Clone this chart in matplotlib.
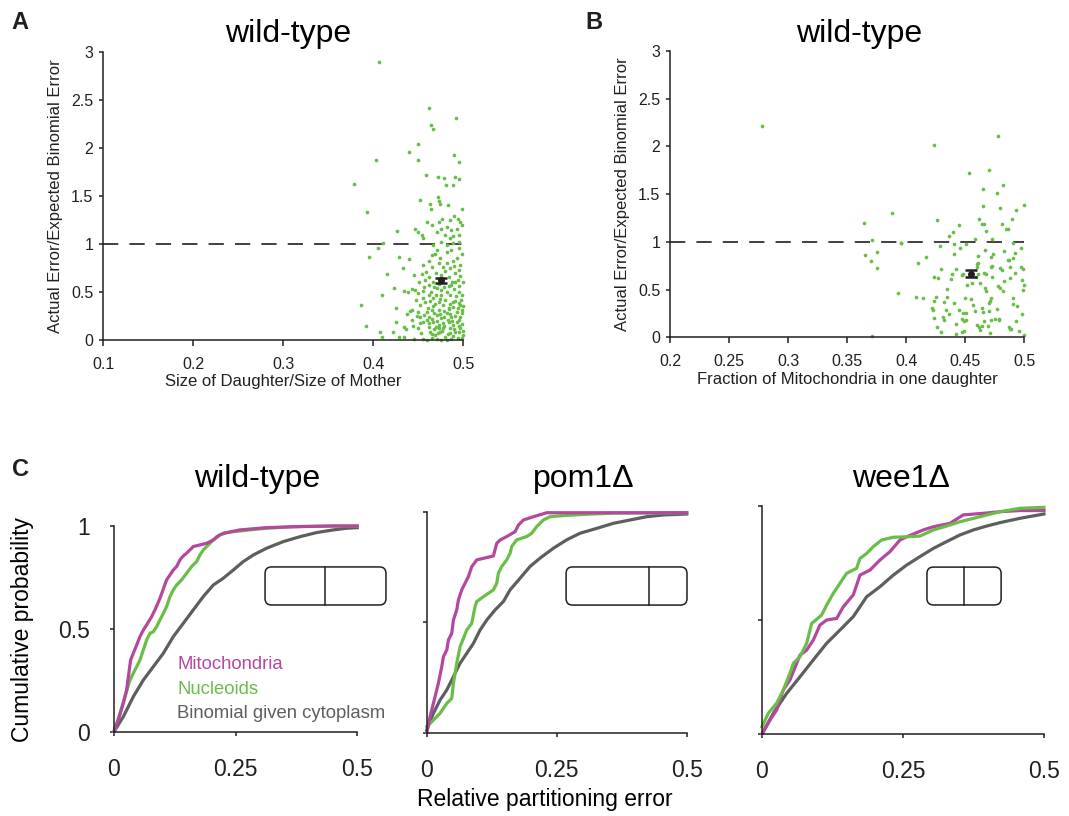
import numpy as np
import matplotlib
matplotlib.use('Agg')
import matplotlib.pyplot as plt
from matplotlib.patches import FancyBboxPatch

plt.rcParams['font.family'] = ['Liberation Sans', 'DejaVu Sans']
plt.rcParams['lines.scale_dashes'] = False

GREEN = '#69BE48'
MAGENTA = '#B4479E'
GREY = '#5E5E5E'
INK = '#231F20'

# A: size of daughter / size of mother vs actual / expected binomial error
size_pts = [
    (0.407, 2.90), (0.462, 2.42), (0.492, 2.31), (0.464, 2.24), (0.467, 2.20), (0.450, 2.04),
    (0.440, 1.96), (0.403, 1.875), (0.450, 1.88), (0.490, 1.93), (0.496, 1.85), (0.459, 1.72),
    (0.472, 1.70), (0.479, 1.69), (0.491, 1.70), (0.495, 1.68), (0.481, 1.61), (0.489, 1.61),
    (0.472, 1.49), (0.452, 1.46), (0.379, 1.63), (0.393, 1.33),
    (0.463, 1.42), (0.473, 1.45), (0.474, 1.42), (0.464, 1.37), (0.483, 1.41), (0.499, 1.37),
    (0.490, 1.295), (0.494, 1.26), (0.497, 1.23), (0.486, 1.25), (0.477, 1.26), (0.473, 1.23),
    (0.465, 1.20), (0.460, 1.225), (0.427, 1.135), (0.447, 1.16), (0.450, 1.13), (0.454, 1.09),
    (0.456, 1.06), (0.471, 1.13), (0.476, 1.16), (0.482, 1.18), (0.487, 1.15), (0.493, 1.16),
    (0.499, 1.20), (0.495, 1.09), (0.489, 1.08), (0.486, 1.06), (0.480, 1.09), (0.476, 1.02),
    (0.482, 0.99), (0.489, 1.01), (0.495, 1.02), (0.411, 1.01), (0.406, 0.955), (0.396, 0.86),
    (0.415, 0.69), (0.410, 0.47), (0.387, 0.365), (0.392, 0.146), (0.408, 0.08), (0.410, 0.03),
    (0.429, 0.87), (0.440, 0.84), (0.433, 0.75), (0.423, 0.54), (0.434, 0.51), (0.439, 0.50),
    (0.443, 0.53), (0.447, 0.52), (0.450, 0.49), (0.445, 0.68), (0.454, 0.69), (0.456, 0.78),
    (0.462, 0.82), (0.465, 0.885), (0.469, 0.90), (0.474, 0.85), (0.478, 0.76), (0.482, 0.80),
    (0.486, 0.75), (0.489, 0.82), (0.493, 0.85), (0.497, 0.78), (0.499, 0.90), (0.495, 0.955),
    (0.487, 0.94), (0.482, 0.92), (0.471, 0.94), (0.467, 0.99),
    (0.458, 0.625), (0.462, 0.573), (0.467, 0.608), (0.471, 0.538), (0.476, 0.469), (0.482, 0.503),
    (0.487, 0.573), (0.491, 0.608), (0.495, 0.503), (0.499, 0.469), (0.497, 0.365), (0.489, 0.399),
    (0.484, 0.330), (0.478, 0.365), (0.473, 0.399), (0.467, 0.434), (0.462, 0.469), (0.456, 0.434),
    (0.452, 0.365), (0.460, 0.295), (0.465, 0.313), (0.471, 0.260), (0.476, 0.226), (0.482, 0.278),
    (0.487, 0.243), (0.493, 0.295), (0.499, 0.313), (0.495, 0.208), (0.489, 0.156), (0.484, 0.191),
    (0.478, 0.122), (0.473, 0.156), (0.467, 0.191), (0.462, 0.174), (0.456, 0.191), (0.452, 0.174),
    (0.463, 0.087), (0.469, 0.052), (0.474, 0.087), (0.480, 0.035), (0.486, 0.070), (0.491, 0.087),
    (0.497, 0.122), (0.500, 0.052), (0.494, 0.017), (0.487, 0.011), (0.482, 0.0), (0.476, 0.0),
    (0.471, 0.011), (0.465, 0.017), (0.460, 0.0), (0.456, 0.011), (0.446, 0.011), (0.441, 0.302),
    (0.443, 0.313), (0.450, 0.295), (0.426, 0.191), (0.426, 0.337), (0.422, 0.087), (0.434, 0.132),
    (0.437, 0.115), (0.429, 0.035), (0.434, 0.035), (0.443, 0.208), (0.450, 0.122), (0.452, 0.243),
    (0.470, 0.139),
    (0.468, 0.55), (0.473, 0.58), (0.479, 0.55), (0.484, 0.56), (0.490, 0.53), (0.496, 0.56),
    (0.500, 0.60), (0.464, 0.50), (0.470, 0.47), (0.476, 0.52), (0.486, 0.47), (0.492, 0.46),
    (0.498, 0.42), (0.458, 0.40), (0.463, 0.41), (0.469, 0.38), (0.474, 0.43), (0.480, 0.42),
    (0.485, 0.38), (0.491, 0.41), (0.496, 0.39), (0.500, 0.35), (0.461, 0.33), (0.467, 0.35),
    (0.473, 0.31), (0.479, 0.30), (0.484, 0.32), (0.489, 0.34), (0.494, 0.33), (0.499, 0.28),
    (0.457, 0.26), (0.462, 0.24), (0.468, 0.28), (0.474, 0.27), (0.479, 0.24), (0.485, 0.27),
    (0.491, 0.25), (0.497, 0.24), (0.460, 0.21), (0.465, 0.22), (0.471, 0.20), (0.478, 0.18),
    (0.483, 0.21), (0.488, 0.20), (0.493, 0.19), (0.499, 0.17), (0.462, 0.14), (0.468, 0.12),
    (0.473, 0.13), (0.479, 0.15), (0.485, 0.13), (0.490, 0.11), (0.496, 0.15), (0.500, 0.09),
    (0.466, 0.06), (0.472, 0.07), (0.477, 0.09), (0.483, 0.06), (0.489, 0.04), (0.495, 0.08),
    (0.499, 0.02), (0.457, 0.55), (0.462, 0.66), (0.470, 0.70), (0.476, 0.68), (0.484, 0.66),
    (0.491, 0.70), (0.497, 0.67), (0.488, 0.60), (0.494, 0.63), (0.466, 0.76), (0.480, 0.72),
    (0.490, 0.77), (0.473, 0.80), (0.496, 0.73), (0.459, 0.71), (0.451, 0.60), (0.448, 0.42),
    (0.453, 0.07), (0.449, 0.25), (0.444, 0.15), (0.438, 0.27), (0.455, 0.51),
]
size_mean = 0.476
size_err_mean = 0.625
size_err_sem = 0.026

# B: fraction of mitochondria in one daughter vs the same error ratio
mito_pts = [
    (0.278, 2.21), (0.424, 2.01), (0.478, 2.105), (0.453, 1.727), (0.470, 1.755), (0.482, 1.598),
    (0.465, 1.559), (0.477, 1.507), (0.465, 1.378), (0.480, 1.35), (0.462, 1.241), (0.464, 1.192),
    (0.466, 1.192), (0.445, 1.178), (0.426, 1.23), (0.481, 1.185), (0.485, 1.136), (0.468, 1.112),
    (0.440, 1.105), (0.436, 1.063), (0.458, 1.035), (0.473, 1.035), (0.396, 0.993), (0.441, 0.979),
    (0.451, 0.979), (0.429, 0.954), (0.446, 0.937), (0.467, 0.916), (0.483, 0.909), (0.441, 0.870),
    (0.474, 0.874), (0.461, 0.853), (0.417, 0.839), (0.486, 0.811), (0.472, 0.839), (0.461, 0.783),
    (0.460, 0.766), (0.460, 0.741), (0.410, 0.783), (0.473, 0.752), (0.472, 0.738), (0.480, 0.723),
    (0.481, 0.706), (0.430, 0.713), (0.442, 0.713), (0.439, 0.660), (0.447, 0.654), (0.448, 0.664),
    (0.466, 0.671), (0.468, 0.660), (0.424, 0.636), (0.427, 0.619), (0.438, 0.608), (0.461, 0.660),
    (0.459, 0.636), (0.473, 0.629), (0.483, 0.594), (0.488, 0.622), (0.456, 0.573), (0.452, 0.549),
    (0.463, 0.566), (0.478, 0.538), (0.480, 0.514), (0.482, 0.489), (0.467, 0.514), (0.468, 0.486),
    (0.435, 0.507), (0.408, 0.426), (0.414, 0.409), (0.425, 0.419), (0.424, 0.381), (0.435, 0.426),
    (0.432, 0.374), (0.450, 0.409), (0.455, 0.398), (0.472, 0.409), (0.471, 0.381), (0.470, 0.363),
    (0.441, 0.356), (0.422, 0.304), (0.423, 0.286), (0.434, 0.286), (0.436, 0.244), (0.445, 0.286),
    (0.448, 0.251), (0.451, 0.258), (0.457, 0.339), (0.458, 0.279), (0.464, 0.304), (0.465, 0.269),
    (0.470, 0.272), (0.477, 0.297), (0.431, 0.209), (0.432, 0.181), (0.424, 0.206), (0.447, 0.188),
    (0.449, 0.174), (0.451, 0.181), (0.466, 0.174), (0.472, 0.181), (0.475, 0.188), (0.479, 0.195),
    (0.479, 0.181), (0.426, 0.111), (0.442, 0.143), (0.460, 0.129), (0.462, 0.105), (0.464, 0.118),
    (0.463, 0.076), (0.469, 0.115), (0.447, 0.056), (0.449, 0.070), (0.430, 0.056), (0.442, 0.038),
    (0.471, 0.045), (0.487, 0.111), (0.488, 0.083),
    (0.493, 1.338), (0.500, 1.391), (0.490, 1.239), (0.486, 1.134), (0.491, 0.986), (0.497, 0.933),
    (0.492, 0.880), (0.491, 0.827), (0.497, 0.739), (0.499, 0.711), (0.492, 0.669), (0.498, 0.599),
    (0.500, 0.546), (0.499, 0.493), (0.491, 0.415), (0.491, 0.352), (0.494, 0.324), (0.498, 0.246),
    (0.493, 0.176), (0.489, 0.088), (0.496, 0.070), (0.500, 0.025), (0.488, 0.739), (0.487, 0.81),
    (0.388, 1.30), (0.364, 1.20), (0.371, 1.017), (0.396, 0.993), (0.375, 0.895), (0.365, 0.863),
    (0.370, 0.80), (0.375, 0.73), (0.393, 0.465), (0.371, 0.013),
]
mito_mean = 0.455
mito_err_mean = 0.667
mito_err_sem = 0.04

# C: cumulative distributions of relative partitioning error
wt_mito_x = [0, 0.0089, 0.0192, 0.026, 0.0342, 0.0397, 0.0466, 0.0534, 0.0603, 0.0671, 0.0774,
             0.0842, 0.0945, 0.1082, 0.1151, 0.1219, 0.1288, 0.1356, 0.1411, 0.1493, 0.163, 0.1767,
             0.1904, 0.2041, 0.2178, 0.2315, 0.2589, 0.3137, 0.3822, 0.4507, 0.5]
wt_mito_y = [0, 0.057, 0.138, 0.203, 0.348, 0.381, 0.421, 0.462, 0.494, 0.519, 0.559, 0.592, 0.648,
             0.738, 0.762, 0.786, 0.803, 0.835, 0.851, 0.868, 0.9, 0.908, 0.916, 0.932, 0.957,
             0.968, 0.981, 0.992, 0.997, 1.0, 1.0]
wt_nuc_x = [0, 0.0123, 0.0226, 0.0329, 0.0397, 0.0466, 0.0534, 0.0603, 0.0671, 0.074, 0.0808,
            0.0877, 0.0945, 0.1014, 0.1082, 0.1151, 0.1219, 0.1288, 0.139, 0.1493, 0.1596, 0.1699,
            0.1767, 0.1836, 0.1904, 0.2007, 0.211, 0.2247, 0.2452, 0.2795, 0.3137, 0.3685, 0.4507, 0.5]
wt_nuc_y = [0, 0.089, 0.17, 0.251, 0.284, 0.316, 0.348, 0.397, 0.446, 0.478, 0.486, 0.511, 0.543,
            0.575, 0.608, 0.657, 0.689, 0.713, 0.738, 0.77, 0.803, 0.827, 0.859, 0.884, 0.9, 0.924,
            0.948, 0.965, 0.972, 0.981, 0.989, 0.997, 1.0, 1.0]
wt_binom_x = [0, 0.0192, 0.0397, 0.0603, 0.0808, 0.1014, 0.1219, 0.1425, 0.163, 0.1836, 0.2041,
              0.2247, 0.2452, 0.2658, 0.2863, 0.3137, 0.3479, 0.3822, 0.4164, 0.4507, 0.4781, 0.5]
wt_binom_y = [0, 0.073, 0.17, 0.251, 0.316, 0.381, 0.462, 0.527, 0.592, 0.657, 0.713, 0.746, 0.786,
              0.827, 0.859, 0.892, 0.924, 0.948, 0.968, 0.981, 0.989, 0.992]

pom1_mito_x = [0, 0.0064, 0.0128, 0.0192, 0.0224, 0.0288, 0.0321, 0.0385, 0.0417, 0.0481, 0.0513,
               0.0577, 0.0609, 0.0673, 0.0737, 0.0801, 0.0865, 0.0962, 0.109, 0.1282, 0.1346,
               0.141, 0.1538, 0.1699, 0.1763, 0.1859, 0.2051, 0.2308, 0.2949, 0.5]
pom1_mito_y = [0, 0.073, 0.133, 0.194, 0.224, 0.299, 0.345, 0.375, 0.421, 0.451, 0.511, 0.557,
               0.602, 0.648, 0.678, 0.708, 0.753, 0.784, 0.791, 0.802, 0.859, 0.874, 0.89, 0.912,
               0.942, 0.965, 0.98, 0.998, 0.998, 0.998]
pom1_nuc_x = [0, 0.0128, 0.0256, 0.0385, 0.0481, 0.0513, 0.0577, 0.0641, 0.0769, 0.0865, 0.0929,
              0.0962, 0.109, 0.1282, 0.1346, 0.1378, 0.1442, 0.1538, 0.1603, 0.1635, 0.1731,
              0.1923, 0.2019, 0.2115, 0.2244, 0.2372, 0.2628, 0.3077, 0.359, 0.5]
pom1_nuc_y = [0.027, 0.057, 0.088, 0.133, 0.156, 0.224, 0.315, 0.39, 0.466, 0.496, 0.572, 0.595,
              0.617, 0.648, 0.678, 0.724, 0.754, 0.784, 0.814, 0.845, 0.875, 0.89, 0.905, 0.935,
              0.965, 0.98, 0.985, 0.991, 0.996, 0.998]
pom1_binom_x = [0, 0.0128, 0.0256, 0.0385, 0.0513, 0.0641, 0.0769, 0.0897, 0.1026, 0.1154, 0.1314,
                0.1474, 0.1603, 0.1795, 0.1987, 0.2179, 0.2436, 0.2692, 0.2949, 0.3269, 0.359,
                0.391, 0.4231, 0.4551, 0.5]
pom1_binom_y = [0.012, 0.088, 0.148, 0.194, 0.254, 0.315, 0.36, 0.405, 0.466, 0.511, 0.557, 0.595,
                0.648, 0.701, 0.754, 0.792, 0.837, 0.875, 0.905, 0.927, 0.95, 0.965, 0.98, 0.988,
                0.992]

wee1_mito_x = [0, 0.0142, 0.026, 0.0378, 0.0496, 0.0615, 0.0674, 0.0792, 0.091, 0.1028, 0.1147,
               0.1324, 0.1442, 0.1619, 0.1738, 0.1915, 0.2092, 0.227, 0.2447, 0.2565, 0.2861,
               0.3038, 0.3333, 0.357, 0.3924, 0.422, 0.4574, 0.5]
wee1_mito_y = [0, 0.061, 0.105, 0.193, 0.237, 0.31, 0.346, 0.368, 0.412, 0.478, 0.5, 0.507, 0.558,
               0.61, 0.697, 0.719, 0.763, 0.8, 0.851, 0.865, 0.895, 0.909, 0.924, 0.961, 0.968,
               0.975, 0.98, 0.98]
wee1_nuc_x = [0, 0.0112, 0.026, 0.0378, 0.0496, 0.0556, 0.0674, 0.0792, 0.0881, 0.094, 0.1058,
              0.1147, 0.1265, 0.1383, 0.1501, 0.1678, 0.1738, 0.1856, 0.1974, 0.2122, 0.2329,
              0.2565, 0.2801, 0.3038, 0.3274, 0.3511, 0.3865, 0.422, 0.4574, 0.5]
wee1_nuc_y = [0.032, 0.091, 0.135, 0.193, 0.266, 0.31, 0.339, 0.398, 0.485, 0.497, 0.522, 0.566,
              0.617, 0.661, 0.705, 0.727, 0.77, 0.792, 0.822, 0.851, 0.863, 0.865, 0.868, 0.895,
              0.912, 0.931, 0.953, 0.975, 0.99, 0.994]
wee1_binom_x = [0, 0.0201, 0.0437, 0.0674, 0.091, 0.1147, 0.1383, 0.1619, 0.1856, 0.2092, 0.2329,
                0.2565, 0.2801, 0.3038, 0.3274, 0.3511, 0.3747, 0.3983, 0.422, 0.4574, 0.5]
wee1_binom_y = [0, 0.091, 0.178, 0.251, 0.325, 0.398, 0.456, 0.515, 0.602, 0.646, 0.697, 0.741,
                0.778, 0.814, 0.844, 0.873, 0.895, 0.912, 0.927, 0.946, 0.965]

strain_titles = ['wild-type', 'pom1\u0394', 'wee1\u0394']
series_labels = ['Mitochondria', 'Nucleoids', 'Binomial given cytoplasm']
cdf_ticks = [0, 0.25, 0.5]
cdf_ticklabels = ['0', '0.25', '0.5']
prob_ticks = [0, 0.5, 1]
prob_ticklabels = ['0', '0.5', '1']


def clean_axes(ax):
    for side in ['top', 'right']:
        ax.spines[side].set_visible(False)
    for side in ['left', 'bottom']:
        ax.spines[side].set_linewidth(1.1)
        ax.spines[side].set_color(INK)
    ax.tick_params(colors=INK, width=1.1)


def ratio_panel(ax, pts, mean_x, mean_y, sem, xlo, xticks, xlabels, xlabel):
    pts = np.array(pts)
    ax.scatter(pts[:, 0], pts[:, 1], s=7, color=GREEN, linewidths=0, zorder=2, clip_on=False)
    ax.plot([xlo, 0.5], [1, 1], color=INK, lw=1.2, ls=(0, (11, 8)), zorder=1)
    ax.errorbar([mean_x], [mean_y], yerr=[sem], fmt='o', ms=4, color=INK, ecolor=INK,
                elinewidth=1.8, capsize=4.5, capthick=1.8, zorder=3)
    ax.set_xlim(xlo, 0.5)
    ax.set_ylim(0, 3)
    ax.set_xticks(xticks)
    ax.set_xticklabels(xlabels)
    ax.set_yticks([0, 0.5, 1, 1.5, 2, 2.5, 3])
    ax.set_yticklabels(['0', '0.5', '1', '1.5', '2', '2.5', '3'])
    clean_axes(ax)
    ax.tick_params(axis='x', direction='out', length=4, pad=8, labelsize=11.5)
    ax.tick_params(axis='y', direction='out', length=3, pad=4, labelsize=11.5)
    ax.set_xlabel(xlabel, fontsize=12, color=INK, labelpad=2)
    ax.set_ylabel('Actual Error/Expected Binomial Error', fontsize=12, color=INK, labelpad=6)


def cell_icon(ax, x0, x1, y0, y1, xdiv):
    bb = ax.get_position()
    w_px = bb.width * fig.get_figwidth() * fig.dpi
    h_px = bb.height * fig.get_figheight() * fig.dpi
    box = FancyBboxPatch((x0, y0), x1 - x0, y1 - y0,
                         boxstyle='round,pad=0,rounding_size=%f' % (6.5 / w_px),
                         mutation_aspect=w_px / h_px, transform=ax.transAxes,
                         fill=False, ec=INK, lw=1.1, clip_on=False)
    ax.add_patch(box)
    ax.plot([xdiv, xdiv], [y0, y1], color=INK, lw=1.1, transform=ax.transAxes, clip_on=False)


fig = plt.figure(figsize=(10.69, 8.16), dpi=100)

ax_a = fig.add_axes([0.0964, 0.5833, 0.3368, 0.3529])
ratio_panel(ax_a, size_pts, size_mean, size_err_mean, size_err_sem, 0.1,
            [0.1, 0.2, 0.3, 0.4, 0.5], ['0.1', '0.2', '0.3', '0.4', '0.5'],
            'Size of Daughter/Size of Mother')

ax_b = fig.add_axes([0.6268, 0.5866, 0.3312, 0.3509])
ratio_panel(ax_b, mito_pts, mito_mean, mito_err_mean, mito_err_sem, 0.2,
            [0.2, 0.25, 0.3, 0.35, 0.4, 0.45, 0.5],
            ['0.2', '0.25', '0.3', '0.35', '0.4', '0.45', '0.5'],
            'Fraction of Mitochondria in one daughter')

fig.text(0.2694, 0.948, 'wild-type', fontsize=23, ha='center', va='baseline')
fig.text(0.8036, 0.948, 'wild-type', fontsize=23, ha='center', va='baseline')

# cumulative probability panels
c_positions = [[0.1066, 0.1033, 0.2276, 0.2521],
               [0.3992, 0.1021, 0.2432, 0.2701],
               [0.7128, 0.1005, 0.2638, 0.2794]]
c_title_x = [0.2404, 0.5458, 0.8429]
c_curves = [
    [(wt_mito_x, wt_mito_y), (wt_nuc_x, wt_nuc_y), (wt_binom_x, wt_binom_y)],
    [(pom1_mito_x, pom1_mito_y), (pom1_nuc_x, pom1_nuc_y), (pom1_binom_x, pom1_binom_y)],
    [(wee1_mito_x, wee1_mito_y), (wee1_nuc_x, wee1_nuc_y), (wee1_binom_x, wee1_binom_y)],
]
c_icons = [(0.621, 1.118, 0.616, 0.801, 0.867),
           (0.536, 1.001, 0.579, 0.752, 0.855),
           (0.585, 0.848, 0.566, 0.732, 0.716)]
curve_colors = [MAGENTA, GREEN, GREY]
draw_order = [[2, 1, 0], [2, 1, 0], [2, 0, 1]]

c_axes = []
for i in range(3):
    ax = fig.add_axes(c_positions[i])
    c_axes.append(ax)
    for k in draw_order[i]:
        xs, ys = c_curves[i][k]
        ax.plot(xs, ys, color=curve_colors[k], lw=2.3, clip_on=False, solid_joinstyle='miter')
    ax.set_xlim(0, 0.5)
    ax.set_ylim(0, 1)
    ax.set_xticks(cdf_ticks)
    ax.set_xticklabels(cdf_ticklabels)
    ax.set_yticks(prob_ticks)
    if i == 0:
        ax.set_yticklabels(prob_ticklabels)
    else:
        ax.set_yticklabels([])
    clean_axes(ax)
    ax.tick_params(axis='x', direction='out', length=3, pad=16, labelsize=16.5)
    ax.tick_params(axis='y', direction='out', length=3, pad=14, labelsize=16.5)
    fig.text(c_title_x[i], 0.4035, strain_titles[i], fontsize=23, ha='center', va='baseline')
    cell_icon(ax, *c_icons[i])

for k, (label, col) in enumerate(zip(series_labels, curve_colors)):
    c_axes[0].text(0.13, [0.305, 0.183, 0.066][k], label, color=col, fontsize=13.3,
                   va='baseline', ha='left')

fig.text(0.0215, 0.228, 'Cumulative probability', fontsize=16.5, rotation=90,
         ha='center', va='center')
fig.text(0.5098, 0.0123, 'Relative partitioning error', fontsize=16.5, ha='center',
         va='baseline')

for letter, x, y in [('A', 0.011, 0.986), ('B', 0.548, 0.986), ('C', 0.011, 0.439)]:
    fig.text(x, y, letter, fontsize=17, fontweight='bold', ha='left', va='top', color=INK)

fig.savefig('out.png', dpi=100)
